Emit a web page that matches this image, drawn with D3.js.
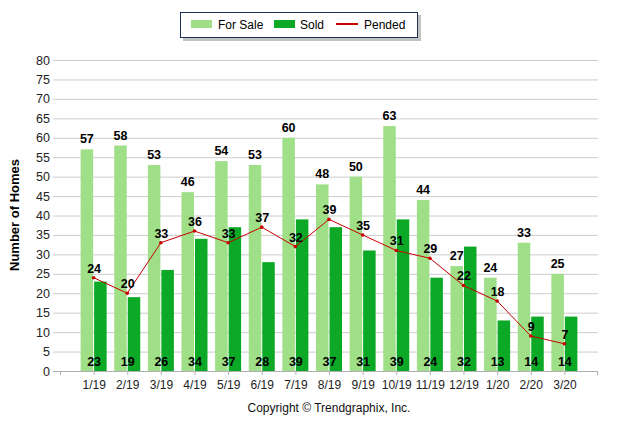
<!DOCTYPE html>
<html><head><meta charset="utf-8">
<script src="https://cdn.jsdelivr.net/npm/d3@7"></script>
<style>body{margin:0;background:#fff}svg{display:block;font-family:"Liberation Sans",Arial,sans-serif}</style>
</head><body><svg id="c" width="618" height="422"></svg>
<script>
const categories = ["1/19","2/19","3/19","4/19","5/19","6/19","7/19","8/19","9/19","10/19","11/19","12/19","1/20","2/20","3/20"];
const forSale = [57,58,53,46,54,53,60,48,50,63,44,27,24,33,25];
const sold = [23,19,26,34,37,28,39,37,31,39,24,32,13,14,14];
const pended = [24,20,33,36,33,37,32,39,35,31,29,22,18,9,7];
const yTicks = [0,5,10,15,20,25,30,35,40,45,50,55,60,65,70,75,80];

const svg = d3.select("#c");
const L = 60, R = 598, T = 60, B = 371;
const x = d3.scalePoint().domain(categories).range([L, R]).padding(1);
const y = d3.scaleLinear().domain([0, 80]).range([B, T]);
const cLight = "#9fdf88", cDark = "#0ca926", cRed = "#c80000";

// grid
svg.append("g").selectAll("line").data(yTicks.filter(d=>d>0)).join("line")
  .attr("x1", 53).attr("x2", R).attr("y1", d=>y(d)+0.5).attr("y2", d=>y(d)+0.5)
  .attr("stroke", "#cccccc");
// y labels
svg.append("g").selectAll("text").data(yTicks).join("text")
  .attr("x", 50).attr("y", d=>y(d)+4.5).attr("text-anchor","end")
  .attr("font-size", 12.5).attr("fill","#222").text(d=>d);
// x axis
const xa = svg.append("g").attr("transform", `translate(0,${B})`)
  .call(d3.axisBottom(x).tickSize(4).tickSizeOuter(0));
xa.select(".domain").remove();
xa.append("line").attr("x1",53).attr("x2",R).attr("y1",0.5).attr("y2",0.5).attr("stroke","#b0b0b0");
xa.append("line").attr("x1",L+0.5).attr("x2",L+0.5).attr("y1",0).attr("y2",4).attr("stroke","#b0b0b0");
xa.append("line").attr("x1",R-0.5).attr("x2",R-0.5).attr("y1",0).attr("y2",4).attr("stroke","#b0b0b0");
xa.selectAll(".tick line").attr("stroke","#b0b0b0");
xa.selectAll(".tick text").attr("font-size",12).attr("fill","#222").attr("font-family","Liberation Sans, Arial, sans-serif").attr("dy","0.95em");

const bw = 12.5;
// bars
svg.append("g").selectAll("rect").data(forSale).join("rect")
  .attr("x", (d,i)=>x(categories[i]) - bw - 0.5).attr("width", bw)
  .attr("y", d=>y(d)).attr("height", d=>B - y(d)).attr("fill", cLight);
svg.append("g").selectAll("rect").data(sold).join("rect")
  .attr("x", (d,i)=>x(categories[i]) + 0.5).attr("width", bw)
  .attr("y", d=>y(d)).attr("height", d=>B - y(d)).attr("fill", cDark);

// pended line
const line = d3.line().x((d,i)=>x(categories[i])).y(d=>y(d));
svg.append("path").datum(pended).attr("d", line).attr("fill","none").attr("stroke",cRed).attr("stroke-width",1);
svg.append("g").selectAll("circle").data(pended).join("circle")
  .attr("cx",(d,i)=>x(categories[i])).attr("cy",d=>y(d)).attr("r",1.8).attr("fill",cRed);

// labels
const lab = svg.append("g").attr("font-size",12.5).attr("font-weight","bold").attr("fill","#000").attr("text-anchor","middle");
lab.selectAll(".fs").data(forSale).join("text")
  .attr("x",(d,i)=>x(categories[i]) - bw/2 - 0.5).attr("y",d=>y(d)-6).text(d=>d);
lab.selectAll(".sd").data(sold).join("text")
  .attr("x",(d,i)=>x(categories[i])+0.5).attr("y",B-5).text(d=>d);
lab.selectAll(".pd").data(pended).join("text")
  .attr("x",(d,i)=>x(categories[i])+0.5).attr("y",d=>y(d)-5).text(d=>d);

// y title
svg.append("text").attr("transform","translate(19,215) rotate(-90)").attr("text-anchor","middle")
  .attr("font-size",13).attr("font-weight","bold").attr("fill","#000").text("Number of Homes");

// legend
const lg = svg.append("g");
lg.append("rect").attr("x",183).attr("y",15).attr("width",238).attr("height",26).attr("fill","#9a9a9a").attr("opacity",0.6);
lg.append("rect").attr("x",180.5).attr("y",12.5).attr("width",237).attr("height",25).attr("fill","#fff").attr("stroke","#1f3358");
lg.append("rect").attr("x",191).attr("y",20).attr("width",21).attr("height",8).attr("fill",cLight);
lg.append("text").attr("x",218).attr("y",28.5).attr("font-size",12).attr("fill","#000").text("For Sale");
lg.append("rect").attr("x",274).attr("y",20).attr("width",21).attr("height",8).attr("fill",cDark);
lg.append("text").attr("x",300).attr("y",28.5).attr("font-size",12).attr("fill","#000").text("Sold");
lg.append("line").attr("x1",336).attr("x2",358).attr("y1",24).attr("y2",24).attr("stroke",cRed).attr("stroke-width",2);
lg.append("text").attr("x",364).attr("y",28.5).attr("font-size",12).attr("fill","#000").text("Pended");

svg.append("text").attr("x",329).attr("y",412).attr("text-anchor","middle").attr("font-size",12).attr("fill","#111")
  .text("Copyright © Trendgraphix, Inc.");
</script></body></html>
